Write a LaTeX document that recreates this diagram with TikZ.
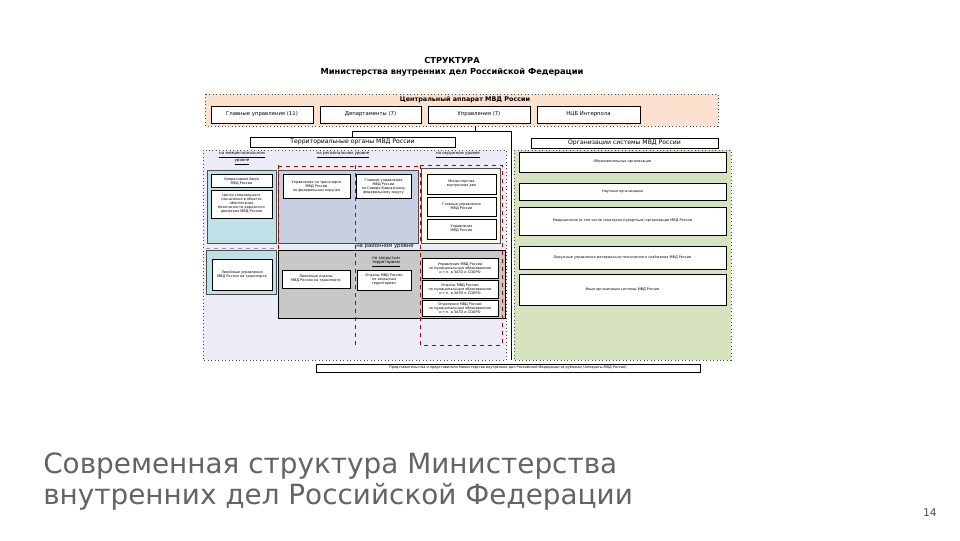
\documentclass[tikz,border=0pt]{standalone}
\usepackage{fontspec}
\setmainfont{DejaVu Sans}
\begin{document}
\begin{tikzpicture}[x=0.75pt,y=-0.75pt,
  wb/.style={draw=black,fill=white,line width=0.5pt,align=center,inner sep=0pt,font=\fontsize{2.6}{3}\selectfont},
  w/.style={minimum width=0.75*#1pt},
  h/.style={minimum height=0.75*#1pt},
  hd/.style={font=\fontsize{3}{3.5}\selectfont,align=center},
  dotbox/.style={draw=black!70,dotted,line width=0.6pt},
  reddash/.style={draw=red!70!black,dashed,line width=0.4pt},
  ln/.style={draw=black,line width=0.5pt}]
\useasboundingbox (0,0) rectangle (960,540);
\fill[white] (0,0) rectangle (960,540);
\node[font=\bfseries\fontsize{6.2}{7}\selectfont] (t1) at (452,60) {СТРУКТУРА};
\node[font=\bfseries\fontsize{6.2}{7}\selectfont] (t2) at (452,72) {Министерства внутренних дел Российской Федерации};
% central
\draw[dotbox,fill={rgb,255:red,252;green,226;blue,206}] (205,94) rectangle (718,126);
\node[font=\bfseries\fontsize{4.8}{5}\selectfont] (ca) at (465,100) {Центральный аппарат МВД России};
\node[wb,w=102,h=17,font=\fontsize{4}{4}\selectfont] (c1) at (262,114.5) {Главные управления (11)};
\node[wb,w=101,h=17,font=\fontsize{4}{4}\selectfont] (c2) at (370.5,114.5) {Департаменты (7)};
\node[wb,w=102,h=17,font=\fontsize{4}{4}\selectfont] (c3) at (479,114.5) {Управления (7)};
\node[wb,w=103,h=17,font=\fontsize{4}{4}\selectfont] (c4) at (588.5,114.5) {НЦБ Интерпола};
% connectors
\coordinate (j1) at (475,131);
\draw[ln] (475,126) -- (j1);
\draw[ln] (352,131) -- (511,131);
\draw[ln] (352,131) -- (352,137);
\draw[ln] (511,131) -- (511,360);
% headers
\node[wb,w=205,h=10,font=\fontsize{4.6}{5}\selectfont] (tr) at (352.5,142) {Территориальные органы МВД России};
\node[wb,w=187,h=10,font=\fontsize{4.6}{5}\selectfont] (or) at (624.5,143) {Организации системы МВД России};
% left panel
\draw[dotbox,fill={rgb,255:red,236;green,236;blue,246}] (203,150) rectangle (506,360);
\node[hd] (h1) at (242,159) {\underline{на межрегиональном}\\\underline{уровне}};
\node[hd] (h2) at (343,155) {\underline{на региональном уровне}};
\node[hd] (h3) at (458,155) {\underline{на окружном уровне}};
\draw[draw=black!70,fill={rgb,255:red,190;green,225;blue,232}] (207,170) rectangle (276,243);
\node[wb,w=61,h=13] (a1) at (241.5,181) {Оперативное бюро\\МВД России};
\node[wb,w=61,h=28] (a2) at (241.5,204) {Центр специального\\назначения в области\\обеспечения\\безопасности дорожного\\движения МВД России};
\draw[draw=black!70,fill={rgb,255:red,198;green,208;blue,226}] (278,170) rectangle (418,243);
\node[wb,w=67,h=24,anchor=north] (b1) at (316.5,174) {Управления на транспорте\\МВД России\\по федеральным округам};
\node[wb,w=55,h=24,anchor=north] (b2) at (383.5,174) {Главное управление\\МВД России\\по Северо-Кавказскому\\федеральному округу};
\draw[draw=black!70,fill={rgb,255:red,250;green,248;blue,232}] (421,168) rectangle (500,243);
\node[wb,w=69,h=20] (d1) at (461.5,184) {Министерства\\внутренних дел};
\node[wb,w=69,h=19] (d2) at (461.5,206.5) {Главные управления\\МВД России};
\node[wb,w=69,h=20] (d3) at (461.5,229) {Управления\\МВД России};
\node[font=\fontsize{4}{4}\selectfont] (hr) at (385,246) {на районном уровне};
\draw[draw=black!70,fill={rgb,255:red,190;green,225;blue,232}] (206,250) rectangle (276,294);
\node[wb,w=60,h=31] (e1) at (242,274.5) {Линейные управления\\МВД России на транспорте};
\draw[draw=black,fill={rgb,255:red,200;green,200;blue,200}] (278,250) rectangle (505,318);
\node[hd] (hz) at (386,262) {по закрытым\\\underline{территориям}};
\node[wb,w=68,h=18] (f1) at (316,279) {Линейные отделы\\МВД России на транспорте};
\node[wb,w=54,h=20] (f2) at (384,280) {Отделы МВД России\\по закрытым\\территориям};
\node[wb,w=76,h=20] (g1) at (460,268) {Управления МВД России\\по муниципальным образованиям\\и т.п. в ЗАТО и СООРО};
\node[wb,w=76,h=18] (g2) at (460,289) {Отделы МВД России\\по муниципальным образованиям\\и т.п. в ЗАТО и СООРО};
\node[wb,w=76,h=16] (g3) at (460,308) {Отделения МВД России\\по муниципальным образованиям\\и т.п. в ЗАТО и СООРО};
\draw[reddash] (355,165) -- (355,345);
\draw[reddash] (278,165) -- (278,250);
\draw[reddash] (278,166) -- (418,166);
\draw[reddash] (420,165) rectangle (502,345);
\draw[draw=black!40,dashed,line width=0.4pt] (206,248) -- (276,248);
% right panel
\draw[dotbox,fill={rgb,255:red,214;green,227;blue,190}] (514,150) rectangle (731,360);
\node[wb,w=207,h=20] (o1) at (622.5,162) {Образовательные организации};
\node[wb,w=207,h=17] (o2) at (622.5,191.5) {Научные организации};
\node[wb,w=207,h=28] (o3) at (622.5,221) {Медицинские (в том числе санаторно-курортные) организации МВД России};
\node[wb,w=207,h=23] (o4) at (622.5,257.5) {Окружные управления материально-технического снабжения МВД России};
\node[wb,w=207,h=31] (o5) at (622.5,289.5) {Иные организации системы МВД России};
% bottom
\node[wb,w=384,h=8] (rep) at (508,368) {Представительства и представители Министерства внутренних дел Российской Федерации за рубежом (Аппараты МВД России)};
% slide title
\node[anchor=base west,font=\fontsize{20.9}{24}\selectfont,text={rgb,255:red,100;green,100;blue,100},inner sep=0pt] (s1) at (43,473) {Современная структура Министерства};
\node[anchor=base west,font=\fontsize{20.9}{24}\selectfont,text={rgb,255:red,100;green,100;blue,100},inner sep=0pt] (s2) at (43,504) {внутренних дел Российской Федерации};
\node[anchor=base east,font=\fontsize{8}{9}\selectfont,text=black!70,inner sep=0pt] (pn) at (937,516) {14};
\end{tikzpicture}
\end{document}
